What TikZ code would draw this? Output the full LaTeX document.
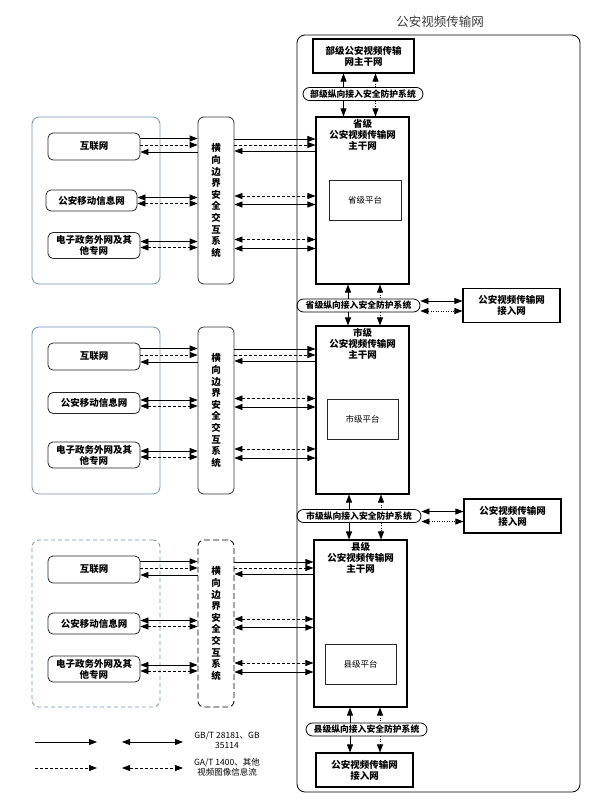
\documentclass[tikz,border=0pt]{standalone}
\usepackage{xcolor}
\usepackage{fontspec}
\setmainfont{Noto Sans CJK SC}
\usepackage{tikz}
\usetikzlibrary{positioning}
\usetikzlibrary{arrows.meta}

\definecolor{grpblue}{HTML}{7192B5}
\definecolor{titlegray}{HTML}{3A3A3A}

\tikzset{
  >={Triangle[length=8pt,width=6pt]},
  every path/.style={line width=0.8pt},
  bfnt/.style={font=\bfseries\fontsize{9.5}{11}\selectfont},
  netbox/.style={draw=black!85,rounded corners=5pt,minimum width=92pt,inner sep=1pt,align=center,bfnt},
  grpbox/.style={draw=grpblue,rounded corners=7pt,minimum width=128pt,minimum height=167pt},
  xbox/.style={draw=black!80,rounded corners=6pt,minimum width=36pt,minimum height=167pt,align=center,inner sep=0pt,font=\bfseries\fontsize{9.5}{11.6}\selectfont},
  corebox/.style={draw,line width=1.1pt,inner sep=0pt,align=center,bfnt},
  platbox/.style={draw=black!85,minimum width=72pt,minimum height=40pt,font=\fontsize{8.5}{10}\selectfont},
  pill/.style={draw,rounded corners=6.5pt,minimum height=13pt,inner sep=0pt,font=\bfseries\fontsize{8.8}{9}\selectfont},
  accbox/.style={draw,line width=1.1pt,minimum width=97pt,minimum height=34pt,align=center,inner sep=0pt,bfnt},
  dsh/.style={dash pattern=on 3pt off 2pt},
  dot/.style={dash pattern=on 1pt off 1.5pt},
  legtxt/.style={align=center,font=\fontsize{8.5}{10}\selectfont}
}

\begin{document}
\begin{tikzpicture}[x=1pt,y=-1pt]
  \useasboundingbox (0,0) rectangle (593,803);

  % outer net
  \node (ttl) [font=\fontsize{12.5}{14}\selectfont,text=titlegray] at (440,22) {公安视频传输网};
  \node (psn) [draw,rounded corners=8pt,minimum width=283pt,minimum height=757pt] at (438.5,413.5) {};

  % ministry level
  \node (mps) [corebox,minimum width=101pt,minimum height=34pt] at (363.5,56) {部级公安视频传输\\网主干网};
  \node (mpspill) [pill,minimum width=120pt] at (363,94) {部级纵向接入安全防护系统};

  % province level
  \node (prov) [corebox,minimum width=93pt,minimum height=167pt] at (362.5,200.5) {};
  \node (provtxt) [below=1pt of prov.north,align=center,bfnt,inner sep=1pt] {省级\\公安视频传输网\\主干网};
  \node (provplat) [platbox] at (365,200.5) {省级平台};
  \node (provpill) [pill,minimum width=123pt] at (358.5,305.5) {省级纵向接入安全防护系统};
  \node (provacc) [accbox] at (511.5,305.5) {公安视频传输网\\接入网};

  % city level
  \node (city) [corebox,minimum width=93pt,minimum height=168pt] at (362.5,410) {};
  \node (citytxt) [below=1pt of city.north,align=center,bfnt,inner sep=1pt] {市级\\公安视频传输网\\主干网};
  \node (cityplat) [platbox,minimum width=71pt] at (362.5,419) {市级平台};
  \node (citypill) [pill,minimum width=124pt] at (359,516) {市级纵向接入安全防护系统};
  \node (cityacc) [accbox] at (512.5,516) {公安视频传输网\\接入网};

  % county level
  \node (cnty) [corebox,minimum width=93pt,minimum height=167pt] at (360.5,623.5) {};
  \node (cntytxt) [below=1pt of cnty.north,align=center,bfnt,inner sep=1pt] {县级\\公安视频传输网\\主干网};
  \node (cntyplat) [platbox,minimum width=71pt] at (360.5,664) {县级平台};
  \node (cntypill) [pill,minimum width=121pt] at (366.5,729.5) {县级纵向接入安全防护系统};
  \node (cntyacc) [accbox] at (364.5,770) {公安视频传输网\\接入网};

  % outside nets, province
  \node (grpA) [grpbox] at (96,200.5) {};
  \node (xA) [xbox] at (216,200.5) {横\\向\\边\\界\\安\\全\\交\\互\\系\\统};
  \node (netA1) [netbox,minimum height=27pt] at (94,146.5) {互联网};
  \node (netA2) [netbox,minimum width=91pt,minimum height=21pt] at (91.5,200.5) {公安移动信息网};
  \node (netA3) [netbox,minimum height=26pt] at (94,245.5) {电子政务外网及其\\他专网};

  % outside nets, city
  \node (grpB) [grpbox] at (96,410.5) {};
  \node (xB) [xbox] at (216,410.5) {横\\向\\边\\界\\安\\全\\交\\互\\系\\统};
  \node (netB1) [netbox,minimum height=27pt] at (94,356.5) {互联网};
  \node (netB2) [netbox,minimum height=21pt] at (94,403) {公安移动信息网};
  \node (netB3) [netbox,minimum height=26pt] at (94,455) {电子政务外网及其\\他专网};

  % outside nets, county
  \node (grpC) [grpbox,dash pattern=on 4pt off 3pt] at (96,623.5) {};
  \node (xC) [xbox,draw=black,dash pattern=on 6pt off 3pt] at (216,623.5) {横\\向\\边\\界\\安\\全\\交\\互\\系\\统};
  \node (netC1) [netbox,minimum height=27pt] at (94,569.5) {互联网};
  \node (netC2) [netbox,minimum height=21pt] at (94,623.5) {公安移动信息网};
  \node (netC3) [netbox,minimum height=26pt] at (94,669) {电子政务外网及其\\他专网};

  % province: nets to boundary system
  \draw[->] ([yshift=8]netA1.east) -- ([yshift=8]netA1.east -| xA.west);
  \draw[->,dsh] ([yshift=1.5]netA1.east) -- ([yshift=1.5]netA1.east -| xA.west);
  \draw[<-] ([yshift=-5.5]netA1.east) -- ([yshift=-5.5]netA1.east -| xA.west);
  \draw[<->] ([yshift=3]netA2.east) -- ([yshift=3]netA2.east -| xA.west);
  \draw[<->,dsh] ([yshift=-3]netA2.east) -- ([yshift=-3]netA2.east -| xA.west);
  \draw[<->] ([yshift=4]netA3.east) -- ([yshift=4]netA3.east -| xA.west);
  \draw[<->,dsh] ([yshift=-2]netA3.east) -- ([yshift=-2]netA3.east -| xA.west);
  % province: boundary system to backbone
  \draw[->] ([yshift=7.5]netA1.east -| xA.east) -- ([yshift=7.5]netA1.east -| prov.west);
  \draw[->,dsh] ([yshift=1.5]netA1.east -| xA.east) -- ([yshift=1.5]netA1.east -| prov.west);
  \draw[<-] ([yshift=-4.5]netA1.east -| xA.east) -- ([yshift=-4.5]netA1.east -| prov.west);
  \draw[<->,dsh] ([yshift=4.5]netA2.east -| xA.east) -- ([yshift=4.5]netA2.east -| prov.west);
  \draw[<->] ([yshift=-4]netA2.east -| xA.east) -- ([yshift=-4]netA2.east -| prov.west);
  \draw[<->,dsh] ([yshift=6]netA3.east -| xA.east) -- ([yshift=6]netA3.east -| prov.west);
  \draw[<->] ([yshift=-3]netA3.east -| xA.east) -- ([yshift=-3]netA3.east -| prov.west);

  % city: nets to boundary system
  \draw[->] ([yshift=8]netB1.east) -- ([yshift=8]netB1.east -| xB.west);
  \draw[->,dsh] ([yshift=1.5]netB1.east) -- ([yshift=1.5]netB1.east -| xB.west);
  \draw[<-] ([yshift=-5.5]netB1.east) -- ([yshift=-5.5]netB1.east -| xB.west);
  \draw[<->] ([yshift=3]netB2.east) -- ([yshift=3]netB2.east -| xB.west);
  \draw[<->,dsh] ([yshift=-3]netB2.east) -- ([yshift=-3]netB2.east -| xB.west);
  \draw[<->] ([yshift=4]netB3.east) -- ([yshift=4]netB3.east -| xB.west);
  \draw[<->,dsh] ([yshift=-2]netB3.east) -- ([yshift=-2]netB3.east -| xB.west);
  % city: boundary system to backbone
  \draw[->] ([yshift=7.5]netB1.east -| xB.east) -- ([yshift=7.5]netB1.east -| city.west);
  \draw[->,dsh] ([yshift=1.5]netB1.east -| xB.east) -- ([yshift=1.5]netB1.east -| city.west);
  \draw[<-] ([yshift=-4.5]netB1.east -| xB.east) -- ([yshift=-4.5]netB1.east -| city.west);
  \draw[<->,dsh] ([yshift=4.5]netB2.east -| xB.east) -- ([yshift=4.5]netB2.east -| city.west);
  \draw[<->] ([yshift=-4]netB2.east -| xB.east) -- ([yshift=-4]netB2.east -| city.west);
  \draw[<->,dsh] ([yshift=6]netB3.east -| xB.east) -- ([yshift=6]netB3.east -| city.west);
  \draw[<->] ([yshift=-3]netB3.east -| xB.east) -- ([yshift=-3]netB3.east -| city.west);

  % county: nets to boundary system
  \draw[->] ([yshift=8]netC1.east) -- ([yshift=8]netC1.east -| xC.west);
  \draw[->,dsh] ([yshift=1.5]netC1.east) -- ([yshift=1.5]netC1.east -| xC.west);
  \draw[<-] ([yshift=-5.5]netC1.east) -- ([yshift=-5.5]netC1.east -| xC.west);
  \draw[<->] ([yshift=3]netC2.east) -- ([yshift=3]netC2.east -| xC.west);
  \draw[<->,dsh] ([yshift=-3]netC2.east) -- ([yshift=-3]netC2.east -| xC.west);
  \draw[<->] ([yshift=4]netC3.east) -- ([yshift=4]netC3.east -| xC.west);
  \draw[<->,dsh] ([yshift=-2]netC3.east) -- ([yshift=-2]netC3.east -| xC.west);
  % county: boundary system to backbone
  \draw[->] ([yshift=7.5]netC1.east -| xC.east) -- ([yshift=7.5]netC1.east -| cnty.west);
  \draw[->,dsh] ([yshift=1.5]netC1.east -| xC.east) -- ([yshift=1.5]netC1.east -| cnty.west);
  \draw[<-] ([yshift=-4.5]netC1.east -| xC.east) -- ([yshift=-4.5]netC1.east -| cnty.west);
  \draw[<->,dsh] ([yshift=4.5]netC2.east -| xC.east) -- ([yshift=4.5]netC2.east -| cnty.west);
  \draw[<->] ([yshift=-4]netC2.east -| xC.east) -- ([yshift=-4]netC2.east -| cnty.west);
  \draw[<->,dsh] ([yshift=6]netC3.east -| xC.east) -- ([yshift=6]netC3.east -| cnty.west);
  \draw[<->] ([yshift=-3]netC3.east -| xC.east) -- ([yshift=-3]netC3.east -| cnty.west);

  % vertical links
  \draw[<-] ([xshift=-20]mps.south) -- ([xshift=-20]mps.south |- mpspill.north);
  \draw[<-,dot] ([xshift=12]mps.south) -- ([xshift=12]mps.south |- mpspill.north);
  \draw[->] ([xshift=-20]mps.south |- mpspill.south) -- ([xshift=-20]mps.south |- prov.north);
  \draw[->,dot] ([xshift=12]mps.south |- mpspill.south) -- ([xshift=12]mps.south |- prov.north);

  \draw[<-] ([xshift=-14.5]prov.south) -- ([xshift=-14.5]prov.south |- provpill.north);
  \draw[<-,dot] ([xshift=17.5]prov.south) -- ([xshift=17.5]prov.south |- provpill.north);
  \draw[->] ([xshift=-14.5]prov.south |- provpill.south) -- ([xshift=-14.5]prov.south |- city.north);
  \draw[->,dot] ([xshift=17.5]prov.south |- provpill.south) -- ([xshift=17.5]prov.south |- city.north);

  \draw[<-] ([xshift=-13.5]city.south) -- ([xshift=-13.5]city.south |- citypill.north);
  \draw[<-,dot] ([xshift=18.5]city.south) -- ([xshift=18.5]city.south |- citypill.north);
  \draw[->] ([xshift=-13.5]city.south |- citypill.south) -- ([xshift=-13.5]city.south |- cnty.north);
  \draw[->,dot] ([xshift=18.5]city.south |- citypill.south) -- ([xshift=18.5]city.south |- cnty.north);

  \draw[<-] ([xshift=-10.5]cnty.south) -- ([xshift=-10.5]cnty.south |- cntypill.north);
  \draw[<-,dot] ([xshift=19.5]cnty.south) -- ([xshift=19.5]cnty.south |- cntypill.north);
  \draw[->] ([xshift=-10.5]cnty.south |- cntypill.south) -- ([xshift=-10.5]cnty.south |- cntyacc.north);
  \draw[->,dot] ([xshift=19.5]cnty.south |- cntypill.south) -- ([xshift=19.5]cnty.south |- cntyacc.north);

  % access nets
  \draw[<->] ([yshift=4.5]provpill.east) -- ([yshift=4.5]provpill.east -| provacc.west);
  \draw[<->,dot] ([yshift=-5.5]provpill.east) -- ([yshift=-5.5]provpill.east -| provacc.west);
  \draw[<->] ([yshift=4.5]citypill.east) -- ([yshift=4.5]citypill.east -| cityacc.west);
  \draw[<->,dot] ([yshift=-5.5]citypill.east) -- ([yshift=-5.5]citypill.east -| cityacc.west);

  % legend
  \coordinate (lgA1) at (35,742);
  \coordinate (lgA2) at (97,742);
  \coordinate (lgA3) at (122,742);
  \coordinate (lgA4) at (183,742);
  \coordinate (lgB1) at (35,768);
  \coordinate (lgB2) at (97,768);
  \coordinate (lgB3) at (122,768);
  \coordinate (lgB4) at (183,768);
  \draw[->] (lgA1) -- (lgA2);
  \draw[<->] (lgA3) -- (lgA4);
  \draw[->,dsh] (lgB1) -- (lgB2);
  \draw[<->,dsh] (lgB3) -- (lgB4);
  \node (lgtA) [legtxt] at (227,740) {GB/T 28181、GB\\35114};
  \node (lgtB) [legtxt] at (227,767) {GA/T 1400、其他\\视频图像信息流};
\end{tikzpicture}
\end{document}
